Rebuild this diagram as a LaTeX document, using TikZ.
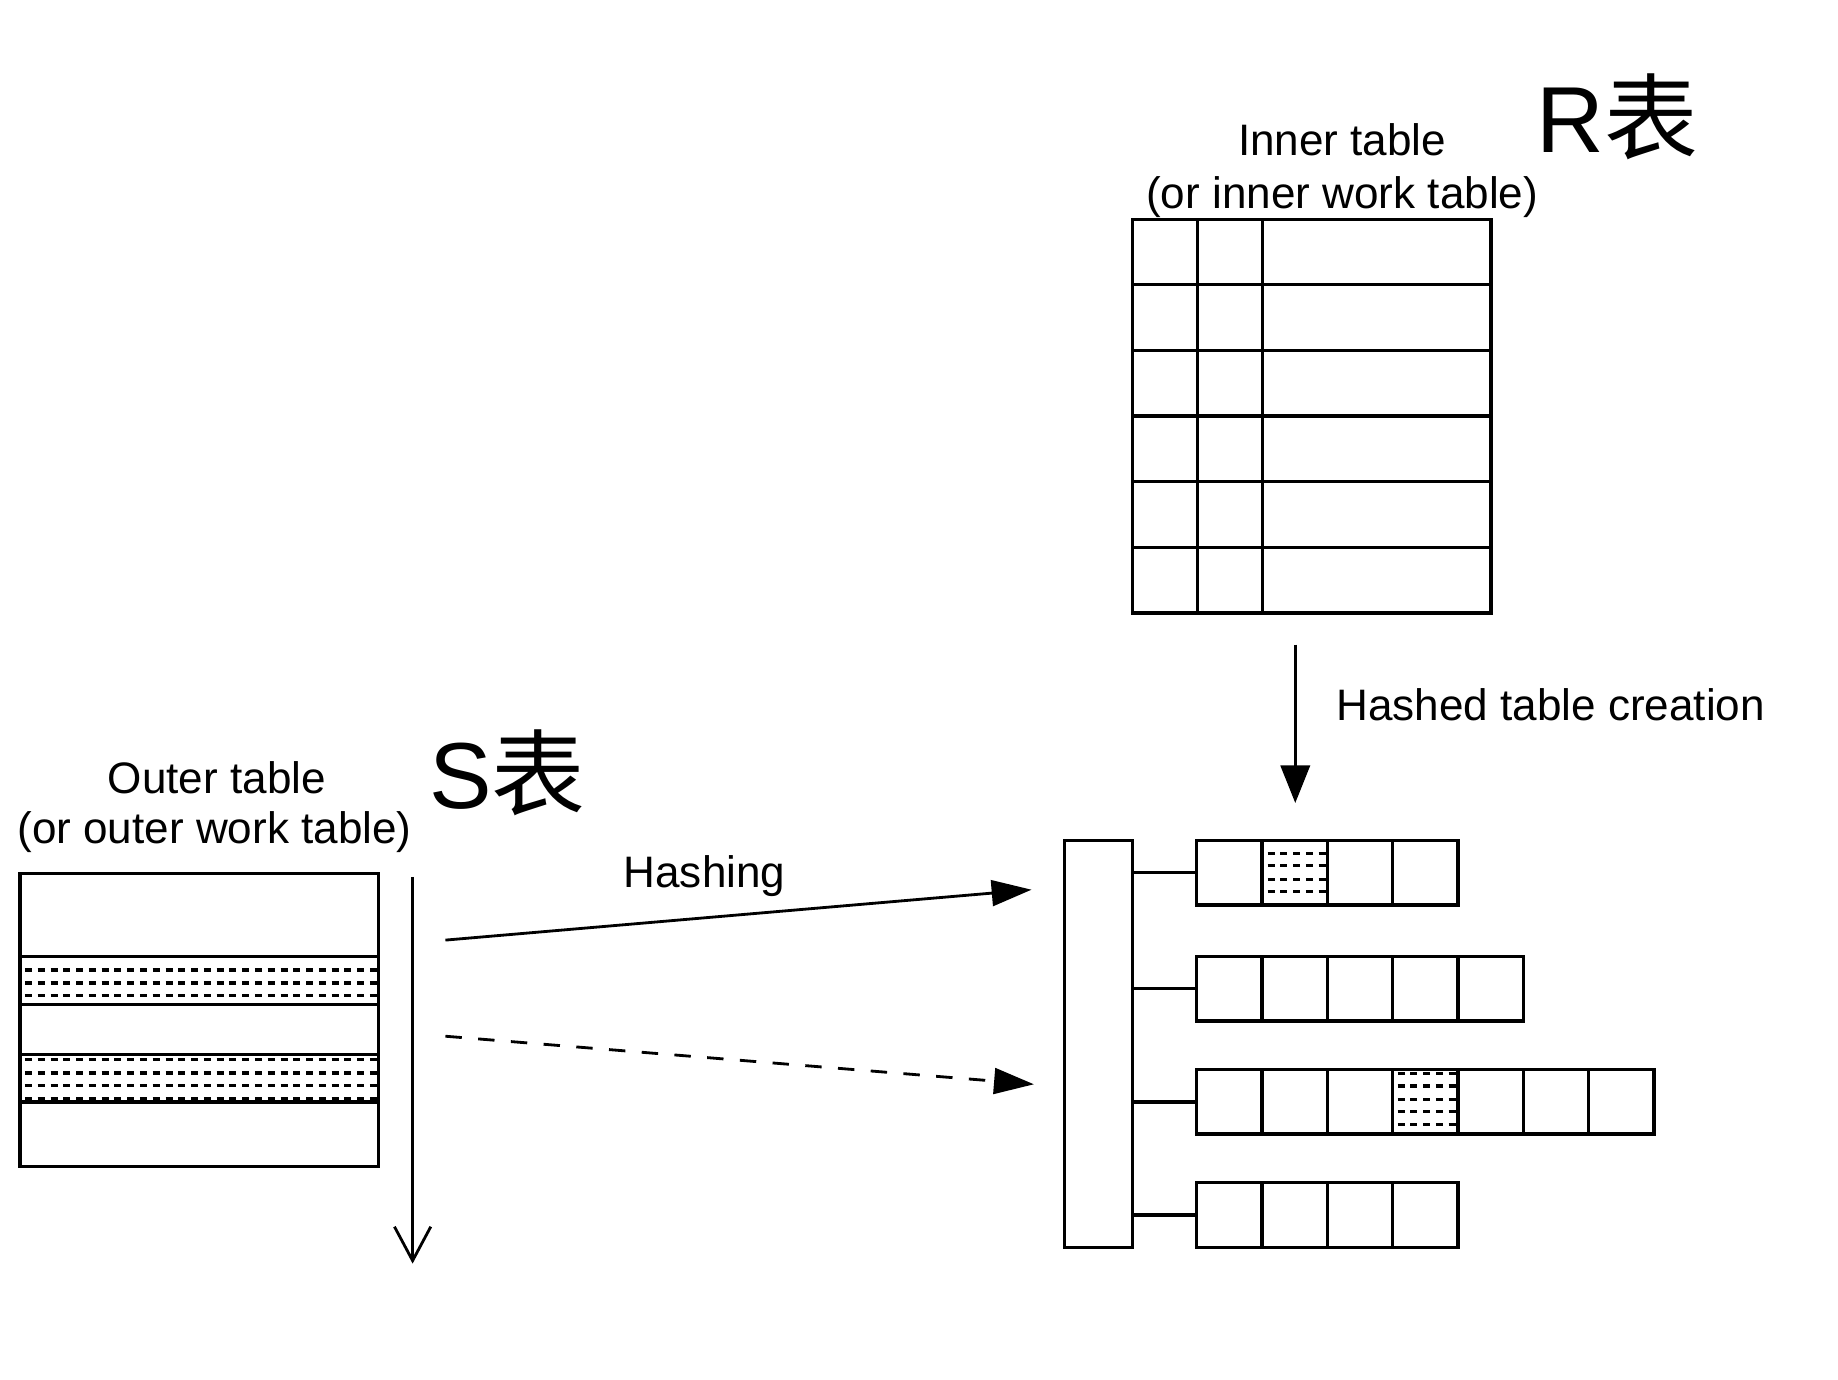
\documentclass[tikz,border=0pt]{standalone}
\usepackage{fontspec}
\setmainfont{Liberation Sans}
\newfontfamily\cjk{Noto Sans CJK SC}
\usetikzlibrary{arrows.meta}
\begin{document}
\begin{tikzpicture}[x=1pt,y=-1pt,line width=2.8pt,
  box/.style={draw,line width=2.8pt,inner sep=0pt,outer sep=0pt,anchor=north west},
  lbl/.style={font=\fontsize{37.6}{45}\selectfont,inner sep=0pt,outer sep=0pt},
  big/.style={font=\fontsize{80}{96}\selectfont,inner sep=0pt,outer sep=0pt},
  pat/.style={line width=2.8pt,dash pattern=on 6pt off 4.9pt},
  filltip/.style={line width=2.4pt,-{Triangle[length=34pt,width=22pt]}},
  scantip/.style={line width=2.4pt,-{Straight Barb[length=29pt,width=31pt,line width=2.4pt]}}
]
\useasboundingbox[fill=white] (0,0) rectangle (1568,1177);

% labels
\node[big,anchor=base west] (R) at (1311,130) {R{\cjk 表}};
\node[big,anchor=base west] (S) at (366,690) {S{\cjk 表}};
\node[lbl,anchor=base] (innerlbl) at (1145,133) {Inner table};
\node[lbl,anchor=base] (innerlbl2) at (1145,177.5) {(or inner work table)};
\node[lbl,anchor=base west] (creation) at (1140,615) {Hashed table creation};
\node[lbl,anchor=base] (outerlbl) at (185,677) {Outer table};
\node[lbl,anchor=base] (outerlbl2) at (183,720) {(or outer work table)};
\node[lbl,anchor=base] (hashing) at (601,757) {Hashing};

% patterns
\foreach \yy in {827.6,838.5,849.3} \draw[pat] (21.3,\yy) -- (323,\yy);
\foreach \yy in {903.9,915.3,926.0,937.1} \draw[pat] (21.3,\yy) -- (323,\yy);
\foreach \yy in {728,738.6,750,760.8} \draw[pat] (1081.4,\yy) -- (1132,\yy);
\foreach \yy in {915.8,926.4,937.7,948.5,959} \draw[pat] (1192.3,\yy) -- (1245.7,\yy);

% inner table
\node[box,minimum width=306pt,minimum height=336pt] (inner) at (966,187) {};
\foreach \i in {1,2} \draw ([xshift=\i*55.5pt]inner.north west) -- ([xshift=\i*55.5pt]inner.south west);
\foreach \j in {1,...,5} \draw ([yshift=-\j*56pt]inner.north west) -- ([yshift=-\j*56pt]inner.north east);

% outer table
\node[box,minimum width=306pt,minimum height=250pt] (outer) at (17,745) {};
\foreach \yy in {816,857,899.6,940} \draw (outer.west |- 0,\yy) -- (outer.east |- 0,\yy);

% hash buckets
\node[box,minimum width=58pt,minimum height=347pt] (bucket) at (908,717) {};
\node[box,minimum width=222.8pt,minimum height=55pt] (c1) at (1021,717) {};
\node[box,minimum width=278.5pt,minimum height=55pt] (c2) at (1021,816) {};
\node[box,minimum width=389.9pt,minimum height=55pt] (c3) at (1021,912.5) {};
\node[box,minimum width=222.8pt,minimum height=55pt] (c4) at (1021,1009) {};
\foreach \c/\n in {c1/3,c2/4,c3/6,c4/3}
  \foreach \i in {1,...,\n}
    \draw ([xshift=\i*55.7pt]\c.north west) -- ([xshift=\i*55.7pt]\c.south west);
\foreach \c in {c1,c2,c3,c4} \draw (bucket.east |- \c.west) -- (\c.west);

% arrows
\coordinate (hs) at (380,802);
\coordinate (he) at (880,759);
\draw[filltip] (hs) -- (he);
\coordinate (ds) at (380,884);
\coordinate (de) at (882,925);
\draw[filltip,dash pattern=on 14pt off 14pt] (ds) -- (de);
\coordinate (cs) at (1105,550);
\coordinate (ce) at (1105,685);
\draw[filltip,-{Triangle[length=32pt,width=25pt]}] (cs) -- (ce);
\coordinate (ss) at (352,748);
\coordinate (se) at (352,1078);
\draw[scantip] (ss) -- (se);
\end{tikzpicture}
\end{document}
